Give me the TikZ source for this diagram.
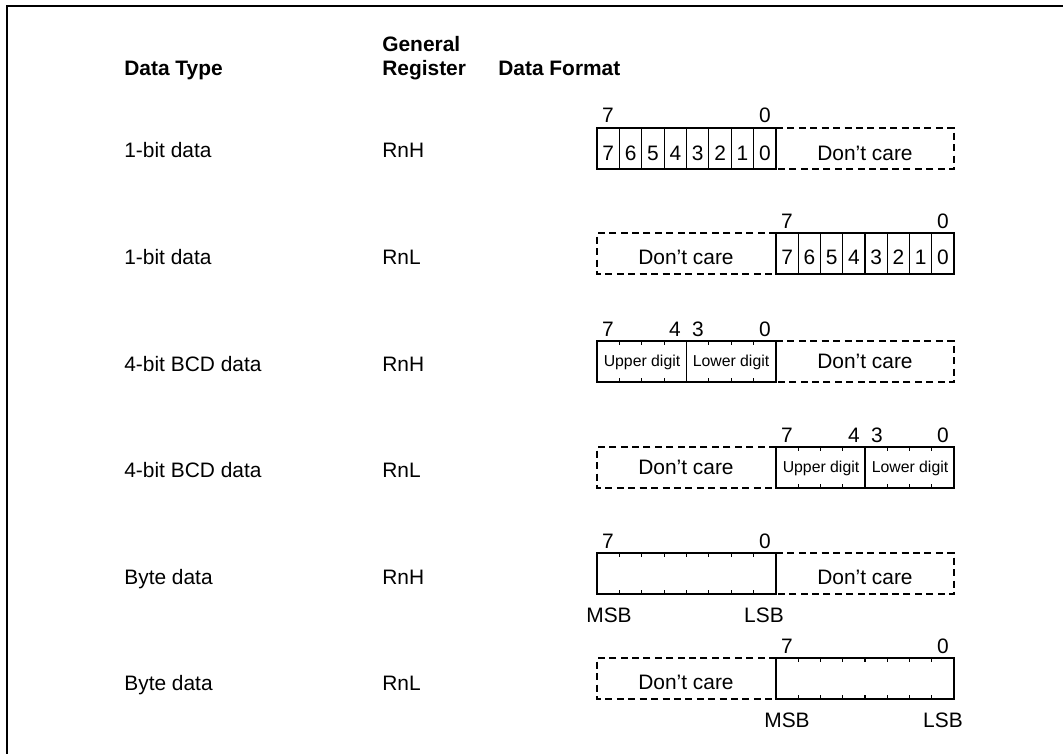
\documentclass[tikz,border=0pt]{standalone}
\usepackage{fontspec}
\setmainfont{Liberation Sans}
\usetikzlibrary{calc}
\tikzset{
	txt/.style={anchor=base west, inner sep=0pt, font=\fontsize{11.9}{14}\selectfont},
	hdr/.style={anchor=base west, inner sep=0pt, font=\fontsize{11.9}{14}\selectfont\bfseries},
	bit/.style={anchor=base, inner sep=0pt, font=\fontsize{11.9}{14}\selectfont},
	digitname/.style={anchor=base, inner sep=0pt, font=\fontsize{9}{10}\selectfont},
	field/.style={draw, line width=0.6pt},
	dontcare/.style={draw, line width=0.6pt, dash pattern=on 4pt off 2.5pt},
	frameline/.style={draw, line width=1.2pt}
}

\begin{document}
\begin{tikzpicture}[x=0.02cm, y=-0.02cm]
	\useasboundingbox (0,0) rectangle (1063,754);
	\draw [frameline] (7,754) -- (7,6) -- (1063,6);

	\node [hdr] (hType) at (124,75) {Data Type};
	\node [hdr] (hGen) at (382,51) {General};
	\node [hdr] (hReg) at (382,75) {Register};
	\node [hdr] (hFmt) at (498,75) {Data Format};

	\node [txt] (t1) at (124,157) {1-bit data};
	\node [txt] (t2) at (124,264) {1-bit data};
	\node [txt] (t3) at (124,371) {4-bit BCD data};
	\node [txt] (t4) at (124,477) {4-bit BCD data};
	\node [txt] (t5) at (124,584) {Byte data};
	\node [txt] (t6) at (124,690) {Byte data};
	\node [txt] (r1) at (382,157) {RnH};
	\node [txt] (r2) at (382,264) {RnL};
	\node [txt] (r3) at (382,371) {RnH};
	\node [txt] (r4) at (382,477) {RnL};
	\node [txt] (r5) at (382,584) {RnH};
	\node [txt] (r6) at (382,690) {RnL};

	% 1-bit data, RnH
	\draw [field] (597,128) rectangle (776,169);
	\foreach \i in {1,...,7} \draw [field] ({597+\i*22.375},128) -- ++(0,41);
	\foreach \b [count=\k from 0] in {7,6,...,0}
		\node [bit] (a\b) at ({597+(\k+0.5)*22.375},160) {\b};
	\draw [dontcare] (776,128) -- (954,128) -- (954,169) -- (776,169);
	\node [bit] (aDc) at (865,160) {Don't care};
	\node [bit] (aHi) at (608,122) {7};
	\node [bit] (aLo) at (765,122) {0};

	% 1-bit data, RnL
	\draw [field] (776,233) rectangle (954,274);
	\foreach \i in {1,...,7} \draw [field] ({776+\i*22.25},233) -- ++(0,41);
	\foreach \b [count=\k from 0] in {7,6,...,0}
		\node [bit] (b\b) at ({776+(\k+0.5)*22.25},264) {\b};
	\draw [dontcare] (776,233) -- (597,233) -- (597,274) -- (776,274);
	\node [bit] (bDc) at (686,264) {Don't care};
	\node [bit] (bHi) at (787,228) {7};
	\node [bit] (bLo) at (943,228) {0};

	% 4-bit BCD data, RnH
	\draw [field] (597,341) rectangle (776,382);
	\draw [field] (686.5,341) -- (686.5,382);
	\foreach \i in {1,2,3,5,6,7} {
		\draw [field] ({597+\i*22.375},341) -- ++(0,4);
		\draw [field] ({597+\i*22.375},382) -- ++(0,-4);
	}
	\node [digitname] (cUp) at (642,366) {Upper digit};
	\node [digitname] (cLw) at (731,366) {Lower digit};
	\draw [dontcare] (776,341) -- (954,341) -- (954,382) -- (776,382);
	\node [bit] (cDc) at (865,368) {Don't care};
	\node [bit] (c7) at (608,336) {7};
	\node [bit] (c4) at (675,336) {4};
	\node [bit] (c3) at (698,336) {3};
	\node [bit] (c0) at (765,336) {0};

	% 4-bit BCD data, RnL
	\draw [field] (776,447) rectangle (954,488);
	\draw [field] (865,447) -- (865,488);
	\foreach \i in {1,2,3,5,6,7} {
		\draw [field] ({776+\i*22.25},447) -- ++(0,4);
		\draw [field] ({776+\i*22.25},488) -- ++(0,-4);
	}
	\node [digitname] (dUp) at (821,472) {Upper digit};
	\node [digitname] (dLw) at (910,472) {Lower digit};
	\draw [dontcare] (776,447) -- (597,447) -- (597,488) -- (776,488);
	\node [bit] (dDc) at (686,474) {Don't care};
	\node [bit] (d7) at (787,442) {7};
	\node [bit] (d4) at (854,442) {4};
	\node [bit] (d3) at (877,442) {3};
	\node [bit] (d0) at (943,442) {0};

	% Byte data, RnH
	\draw [field] (597,553) rectangle (776,594);
	\foreach \i in {1,...,7} {
		\draw [field] ({597+\i*22.375},553) -- ++(0,4);
		\draw [field] ({597+\i*22.375},594) -- ++(0,-4);
	}
	\draw [dontcare] (776,553) -- (954,553) -- (954,594) -- (776,594);
	\node [bit] (eDc) at (865,584) {Don't care};
	\node [bit] (eHi) at (608,548) {7};
	\node [bit] (eLo) at (765,548) {0};
	\node [bit] (eMsb) at (609,622) {MSB};
	\node [bit] (eLsb) at (764,622) {LSB};

	% Byte data, RnL
	\draw [field] (776,658) rectangle (954,699);
	\foreach \i in {1,...,7} {
		\draw [field] ({776+\i*22.25},658) -- ++(0,4);
		\draw [field] ({776+\i*22.25},699) -- ++(0,-4);
	}
	\draw [dontcare] (776,658) -- (597,658) -- (597,699) -- (776,699);
	\node [bit] (fDc) at (686,689) {Don't care};
	\node [bit] (fHi) at (787,653) {7};
	\node [bit] (fLo) at (943,653) {0};
	\node [bit] (fMsb) at (787,727) {MSB};
	\node [bit] (fLsb) at (943,727) {LSB};
\end{tikzpicture}
\end{document}
